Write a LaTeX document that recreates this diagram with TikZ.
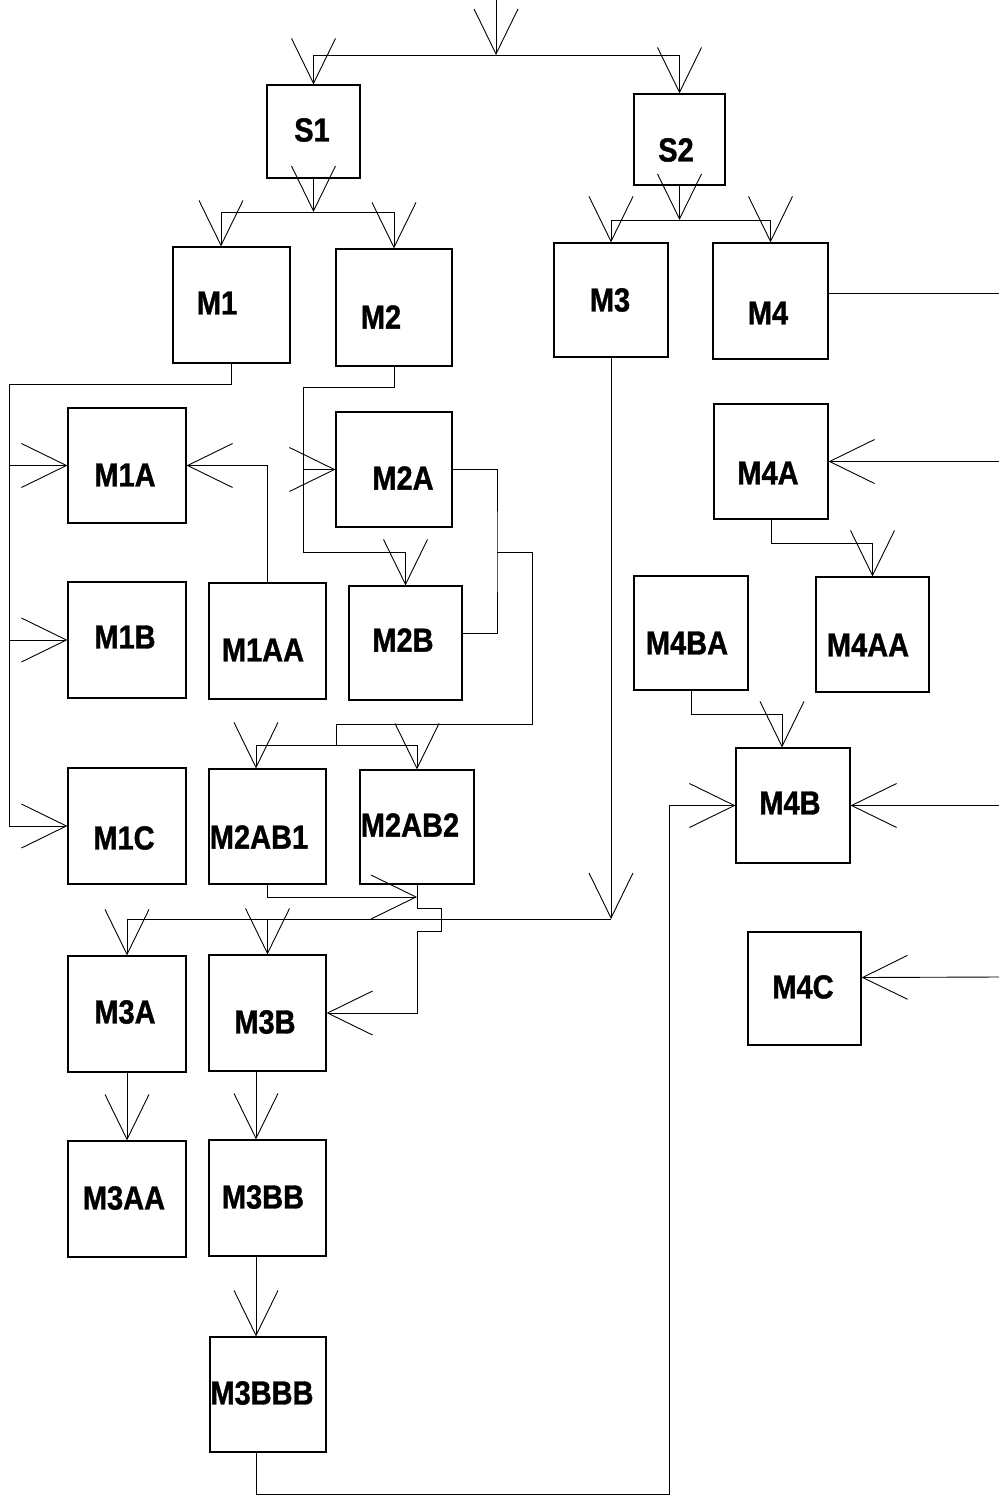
\documentclass[tikz,border=0pt]{standalone}
\usepackage{fontspec}
\setmainfont{Liberation Sans}[BoldFeatures={FakeBold=1.2}]
\usetikzlibrary{arrows.meta}
\tikzset{
  box/.style={draw, line width=1.1pt, inner sep=0pt, fill=none},
  lbl/.style={font=\bfseries\fontsize{29}{29}\selectfont, inner sep=0pt},
  wire/.style={line width=0.9pt},
  arr/.style={wire, -{Straight Barb[length=45pt,width=44pt]}},
}
\newcommand{\blk}[5]{\node[box, minimum width=#4pt, minimum height=#5pt] (#1) at (#2,#3) {};}
\newcommand{\tx}[1]{\scalebox{1}[1.15]{#1}}
\begin{document}
\begin{tikzpicture}[x=1pt,y=-1pt]
\useasboundingbox (0,0) rectangle (999,1498);
% boxes
\blk{S1}{313.5}{131.5}{93}{93}
\blk{S2}{679.5}{139.5}{91}{91}
\blk{M1}{231.5}{305}{117}{116}
\blk{M2}{394}{307.5}{116}{117}
\blk{M3}{611}{300}{114}{114}
\blk{M4}{770.5}{301}{115}{116}
\blk{M1A}{127}{465.5}{118}{115}
\blk{M2A}{394}{469.5}{116}{115}
\blk{M4A}{771}{461.5}{114}{115}
\blk{M1B}{127}{640}{118}{116}
\blk{M1AA}{267.5}{641}{117}{116}
\blk{M2B}{405.5}{643}{113}{114}
\blk{M4BA}{691}{633}{114}{114}
\blk{M4AA}{872.5}{634.5}{113}{115}
\blk{M4B}{793}{805.5}{114}{115}
\blk{M1C}{127}{826}{118}{116}
\blk{M2ABa}{267.5}{826.5}{117}{115}
\blk{M2ABb}{417}{827}{114}{114}
\blk{M4C}{804.5}{988.5}{113}{113}
\blk{M3A}{127}{1014}{118}{116}
\blk{M3B}{267.5}{1013}{117}{116}
\blk{M3AA}{127}{1199}{118}{116}
\blk{M3BB}{267.5}{1198}{117}{116}
\blk{M3BBB}{268}{1394.5}{116}{115}
% labels
\node[lbl] (tS1) at (312,130) {\tx{S1}};
\node[lbl] (tS2) at (676,150) {\tx{S2}};
\node[lbl] (tM1) at (217,303) {\tx{M1}};
\node[lbl] (tM2) at (381,317) {\tx{M2}};
\node[lbl] (tM3) at (610,300) {\tx{M3}};
\node[lbl] (tM4) at (768,313) {\tx{M4}};
\node[lbl] (tM1A) at (125,475) {\tx{M1A}};
\node[lbl] (tM2A) at (403,478) {\tx{M2A}};
\node[lbl] (tM4A) at (768,473) {\tx{M4A}};
\node[lbl] (tM1B) at (125,637) {\tx{M1B}};
\node[lbl] (tM1AA) at (263,650) {\tx{M1AA}};
\node[lbl] (tM2B) at (403,640) {\tx{M2B}};
\node[lbl] (tM4BA) at (687,643) {\tx{M4BA}};
\node[lbl] (tM4AA) at (868,645) {\tx{M4AA}};
\node[lbl] (tM4B) at (790,803) {\tx{M4B}};
\node[lbl] (tM1C) at (124,838) {\tx{M1C}};
\node[lbl] (tM2ABa) at (259,837) {\tx{M2AB1}};
\node[lbl] (tM2ABb) at (410,825) {\tx{M2AB2}};
\node[lbl] (tM4C) at (803,987) {\tx{M4C}};
\node[lbl] (tM3A) at (125,1012) {\tx{M3A}};
\node[lbl] (tM3B) at (265,1022) {\tx{M3B}};
\node[lbl] (tM3AA) at (124,1198) {\tx{M3AA}};
\node[lbl] (tM3BB) at (263,1197) {\tx{M3BB}};
\node[lbl] (tM3BBB) at (262,1393) {\tx{M3BBB}};
% coordinates
\coordinate (in0) at (496,0);
\coordinate (j0) at (496,55);
\coordinate (j1) at (313.5,212);
\coordinate (j2) at (679.5,220);
\coordinate (L1) at (9,384);
\coordinate (L2) at (303,387);
\coordinate (L2b) at (303,552);
\coordinate (R2) at (497,552);
\coordinate (R2b) at (532,724);
\coordinate (B2) at (336,745);
\coordinate (J3) at (417,897);
\coordinate (J4) at (611,919);
\coordinate (B5) at (669,1494);
\coordinate (E1) at (999,293);
\coordinate (E2) at (999,461.5);
\coordinate (E3) at (999,805.5);
\coordinate (E4) at (999,977);
% top
\draw[arr] (in0) -- (j0);
\draw[wire] (S1.north |- j0) -- (S2.north |- j0);
\draw[arr] (S1.north |- j0) -- (S1.north);
\draw[arr] (S2.north |- j0) -- (S2.north);
% S1 outputs
\draw[arr] (S1.south) -- (j1);
\draw[wire] ([xshift=-10.5pt]M1.north |- j1) -- (M2.north |- j1);
\draw[arr] ([xshift=-10.5pt]M1.north |- j1) -- ([xshift=-10.5pt]M1.north);
\draw[arr] (M2.north |- j1) -- (M2.north);
% S2 outputs
\draw[arr] (S2.south) -- (j2);
\draw[wire] (M3.north |- j2) -- (M4.north |- j2);
\draw[arr] (M3.north |- j2) -- (M3.north);
\draw[arr] (M4.north |- j2) -- (M4.north);
% M1 outputs
\draw[arr] (M1.south) |- (L1) |- (M1C.west);
\draw[arr] (L1 |- M1A.west) -- (M1A.west);
\draw[arr] (L1 |- M1B.west) -- (M1B.west);
\draw[arr] (M1AA.north) |- (M1A.east);
% M2 outputs
\draw[arr] (M2.south) |- (L2) -- (L2b) -| (M2B.north);
\draw[arr] (L2 |- M2A.west) -- (M2A.west);
\draw[wire] (M2A.east) -| (R2) |- ([yshift=10pt]M2B.east);
\draw[wire] (R2) -| (R2b) -| (B2);
\draw[wire] ([xshift=-11.5pt]M2ABa.north |- B2) -- (M2ABb.north |- B2);
\draw[arr] ([xshift=-11.5pt]M2ABa.north |- B2) -- ([xshift=-11.5pt]M2ABa.north);
\draw[arr] (M2ABb.north |- B2) -- (M2ABb.north);
% M2AB outputs
\draw[arr] (M2ABa.south) |- (J3);
\draw[arr] (M2ABb.south) -- ++(0,24) -- ++(24,0) -- ++(0,23) -- ++(-24,0) |- (M3B.east);
% M3 output
\draw[arr] (M3.south) -- (J4);
\draw[wire] (J4) -- (M3A.north |- J4);
\draw[arr] (M3A.north |- J4) -- (M3A.north);
\draw[arr] (M3B.north |- J4) -- (M3B.north);
\draw[arr] (M3A.south) -- (M3AA.north);
\draw[arr] ([xshift=-11.5pt]M3B.south) -- ([xshift=-11.5pt]M3BB.north);
\draw[arr] ([xshift=-11.5pt]M3BB.south) -- ([xshift=-12pt]M3BBB.north);
\draw[arr] ([xshift=-12pt]M3BBB.south) |- (B5) |- (M4B.west);
% M4 side
\draw[wire] ([yshift=8pt]M4.east) -- (E1);
\draw[arr] (E2) -- (M4A.east);
\draw[arr] (M4A.south) -- ++(0,24) -| (M4AA.north);
\draw[arr] (M4BA.south) -- ++(0,24) -| ([xshift=-11pt]M4B.north);
\draw[arr] (E3) -- (M4B.east);
\draw[arr] (E4) -- ([yshift=11pt]M4C.east);
\end{tikzpicture}
\end{document}
